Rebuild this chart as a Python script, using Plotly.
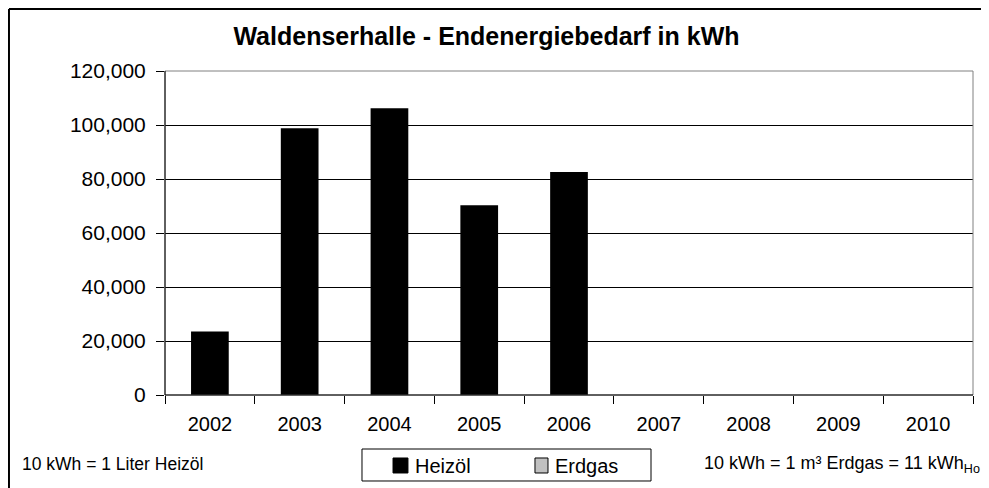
import plotly.graph_objects as go

years = ['2002', '2003', '2004', '2005', '2006', '2007', '2008', '2009', '2010']
heizoel = [23500, 98800, 106200, 70300, 82600, 0, 0, 0, 0]
erdgas = [0, 0, 0, 0, 0, 0, 0, 0, 0]
y_ticks = [0, 20000, 40000, 60000, 80000, 100000, 120000]

FONT = 'Arial, Liberation Sans, sans-serif'
HEIZOEL_COL = 'black'
ERDGAS_COL = '#c0c0c0'

fig = go.Figure()

fig.add_trace(go.Bar(
    x=years, y=heizoel, name='Heizöl', width=0.42,
    marker=dict(color=HEIZOEL_COL, line=dict(width=0)),
    showlegend=False,
))
fig.add_trace(go.Bar(
    x=years, y=erdgas, name='Erdgas', width=0.42,
    marker=dict(color=ERDGAS_COL, line=dict(width=0)),
    showlegend=False,
))

shapes = [
    # äußerer Rahmen (links + oben)
    dict(type='line', x0=-0.1931, x1=1.2, y0=1.1914, y1=1.1914,
         line=dict(color='black', width=2)),
    dict(type='line', x0=-0.1931, x1=-0.1931, y0=-0.5, y1=1.1914,
         line=dict(color='black', width=2)),
    # Plotrahmen grau, Achsen schwarz
    dict(type='rect', x0=0, x1=1, y0=0, y1=1, line=dict(color='#808080', width=1)),
    dict(type='line', x0=0, x1=0, y0=0, y1=1, line=dict(color='black', width=1)),
    dict(type='line', x0=0, x1=1, y0=0, y1=0, line=dict(color='black', width=1)),
    # Legende (Excel-Stil)
    dict(type='rect', x0=0.2438, x1=0.6015, y0=-0.1667, y1=-0.2654,
         line=dict(color='black', width=1), fillcolor='white'),
    dict(type='rect', x0=0.2822, x1=0.3007, y0=-0.1944, y1=-0.2407,
         line=dict(color='black', width=1), fillcolor=HEIZOEL_COL),
    dict(type='rect', x0=0.4579, x1=0.4740, y0=-0.1944, y1=-0.2407,
         line=dict(color='black', width=1), fillcolor=ERDGAS_COL),
]
for s in shapes:
    s.update(xref='paper', yref='paper')
    fig.add_shape(**s)

notes = [
    dict(text='Heizöl', x=0.3069, y=-0.2176, xanchor='left', size=20),
    dict(text='Erdgas', x=0.4802, y=-0.2176, xanchor='left', size=20),
    dict(text='10 kWh = 1 Liter Heizöl', x=-0.1795, y=-0.213, xanchor='left', size=17.5),
    dict(text='10 kWh = 1 m³ Erdgas = 11 kWh<sub>Ho</sub>', x=1.0111, y=-0.213,
         xanchor='right', size=18),
]
for n in notes:
    fig.add_annotation(text=n['text'], xref='paper', yref='paper',
                       x=n['x'], y=n['y'], xanchor=n['xanchor'], yanchor='middle',
                       showarrow=False,
                       font=dict(size=n['size'], color='black', family=FONT))

# Seite hat 8px body-margin -> Figur um 8px kleiner
fig.update_layout(
    width=981, height=480,
    margin=dict(l=157, r=16, t=63, b=93),
    paper_bgcolor='white',
    plot_bgcolor='white',
    barmode='overlay',
    font=dict(family=FONT, color='black', size=16),
    title=dict(text='<b>Waldenserhalle - Endenergiebedarf in kWh</b>',
               x=0.3979, xref='paper', xanchor='center',
               y=1 - 28 / 480, yref='container', yanchor='middle',
               font=dict(size=25, family=FONT, color='black')),
    showlegend=False,
    xaxis=dict(
        tickson='boundaries', ticks='outside', ticklen=8,
        tickcolor='black', showgrid=False, showline=False,
        tickfont=dict(size=20), ticklabelstandoff=15, fixedrange=True,
    ),
    yaxis=dict(
        range=[0, 120000], tickvals=y_ticks, tickformat=',d',
        ticks='outside', ticklen=8, tickcolor='black',
        showgrid=True, gridcolor='black', gridwidth=1,
        zeroline=False, showline=False,
        tickfont=dict(size=21), ticklabelstandoff=6, fixedrange=True,
    ),
)

fig.write_html('out.html')
